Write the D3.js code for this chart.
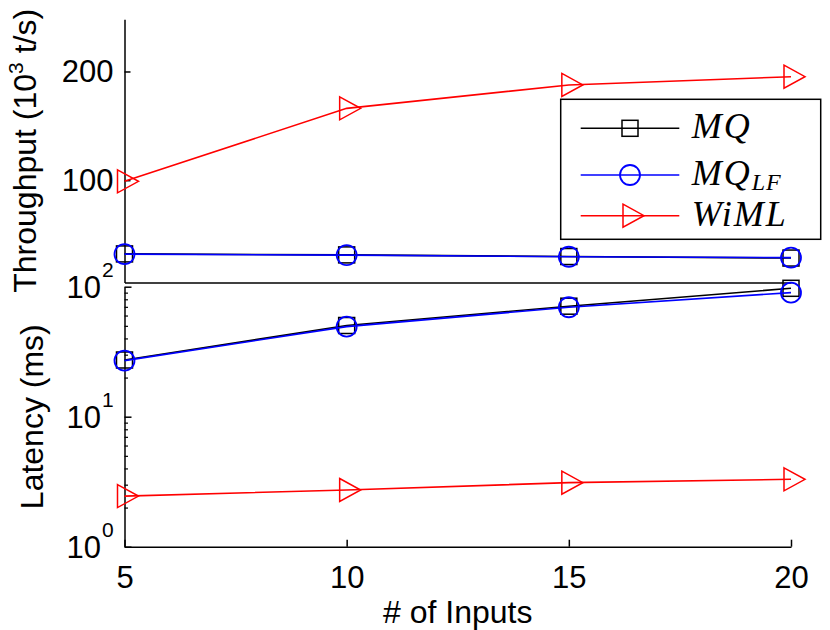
<!DOCTYPE html>
<html>
<head>
<meta charset="utf-8">
<script src="https://cdn.jsdelivr.net/npm/d3@7.9.0/dist/d3.min.js"></script>
<style>
  body { margin: 0; background: #fff; }
  svg { display: block; font-family: "Liberation Sans", Arial, Helvetica, sans-serif; }
</style>
</head>
<body>
<div id="chart"></div>
<script>
// x values and series
const inputs = [5, 10, 15, 20];

const thrMQ = [32.2, 31.3, 29.8, 28.4];
const thrMQLF = [32.0, 31.1, 29.6, 28.8];
const thrWiML = [99.0, 166.1, 187.6, 195.2];

const latMQ = [27.3, 50.3, 70.8, 97.2];
const latMQLF = [27.0, 49.3, 69.5, 90.0];
const latWiML = [2.45, 2.73, 3.11, 3.30];

const xTicks = [5, 10, 15, 20];
const thrTicks = [100, 200];
const latTicks = [1, 10, 100];
const latExponents = ["0", "1", "2"];

const seriesNames = ["MQ", "MQLF", "WiML"];
const seriesColors = ["#000000", "#0000ff", "#ff0000"];

const width = 830;
const height = 630;

const svg = d3.select("#chart")
  .append("svg")
  .attr("width", width)
  .attr("height", height);

const x = d3.scaleLinear().domain([5, 20]).range([124.5, 791]);
const yThr = d3.scaleLinear().domain([6, 248]).range([282.4, 19.3]);
const yLat = d3.scaleLog().domain([1, 100]).range([546.7, 286.7]);

// marker shapes
function drawMarker(g, kind, color, cx, cy) {
  if (kind === "MQ") {
    g.append("rect")
      .attr("x", cx - 8).attr("y", cy - 8)
      .attr("width", 16).attr("height", 16)
      .attr("fill", "none").attr("stroke", color).attr("stroke-width", 1.5);
  } else if (kind === "MQLF") {
    g.append("circle")
      .attr("cx", cx).attr("cy", cy).attr("r", 10)
      .attr("fill", "none").attr("stroke", color).attr("stroke-width", 1.8);
  } else {
    g.append("path")
      .attr("d", `M${cx - 7},${cy - 11.5}L${cx + 14},${cy}L${cx - 7},${cy + 11.5}Z`)
      .attr("fill", "none").attr("stroke", color).attr("stroke-width", 1.5);
  }
}

function drawSeries(yScale, values, kind, color) {
  const g = svg.append("g");
  const line = d3.line()
    .x((d, i) => x(inputs[i]))
    .y(d => yScale(d));
  g.append("path")
    .datum(values)
    .attr("d", line)
    .attr("fill", "none")
    .attr("stroke", color)
    .attr("stroke-width", 1.6);
  values.forEach((v, i) => drawMarker(g, kind, color, x(inputs[i]), yScale(v)));
}

// ---- top panel: throughput
const topLeft = svg.append("g")
  .attr("transform", `translate(${x(5)},0)`)
  .call(d3.axisLeft(yThr).tickValues(thrTicks).tickSize(-6).tickSizeOuter(0).tickPadding(11));

const topBottom = svg.append("g")
  .attr("transform", `translate(0,${yThr.range()[0]})`)
  .call(d3.axisBottom(x).tickValues([]).tickSizeOuter(0));

// ---- bottom panel: latency
const minorTicks = [];
[1, 10].forEach(base => {
  for (let k = 2; k <= 9; k++) minorTicks.push(base * k);
});

svg.append("g")
  .attr("class", "minor")
  .attr("transform", `translate(${x(5)},0)`)
  .call(d3.axisLeft(yLat).tickValues(minorTicks).tickSize(-3.5).tickFormat(""))
  .call(g => g.select(".domain").remove());

const botLeft = svg.append("g")
  .attr("transform", `translate(${x(5)},0)`)
  .call(d3.axisLeft(yLat).tickValues(latTicks).tickSize(-7).tickSizeOuter(0).tickFormat(""));

const botBottom = svg.append("g")
  .attr("transform", `translate(0,${yLat.range()[0]})`)
  .call(d3.axisBottom(x).tickValues(xTicks).tickSize(-7).tickSizeOuter(0).tickPadding(19));

[topLeft, topBottom, botLeft, botBottom].forEach(g => {
  g.selectAll("path.domain, line").attr("stroke", "#000").attr("stroke-width", 1.5);
  g.selectAll("text").attr("font-size", 31).attr("fill", "#000")
    .attr("font-family", "'Liberation Sans', Arial, sans-serif");
});
svg.selectAll(".minor line").attr("stroke", "#000").attr("stroke-width", 1.2);

// log tick labels with superscripts
latTicks.forEach((t, i) => {
  const txt = svg.append("text")
    .attr("x", 101)
    .attr("y", yLat(t) + 11.5)
    .attr("text-anchor", "end")
    .attr("font-size", 31)
    .text("10");
  svg.append("text")
    .attr("x", 102)
    .attr("y", yLat(t) - 10)
    .attr("font-size", 21)
    .text(latExponents[i]);
});

// series, drawn in the original order
drawSeries(yThr, thrMQ, "MQ", seriesColors[0]);
drawSeries(yThr, thrMQLF, "MQLF", seriesColors[1]);
drawSeries(yThr, thrWiML, "WiML", seriesColors[2]);
drawSeries(yLat, latMQ, "MQ", seriesColors[0]);
drawSeries(yLat, latMQLF, "MQLF", seriesColors[1]);
drawSeries(yLat, latWiML, "WiML", seriesColors[2]);

// axis titles
const thrTitle = svg.append("text")
  .attr("transform", "rotate(-90)")
  .attr("x", -(yThr.range()[0] + yThr.range()[1]) / 2)
  .attr("y", 36)
  .attr("text-anchor", "middle")
  .attr("font-size", 32);
thrTitle.append("tspan").text("Throughput (10");
thrTitle.append("tspan").attr("dy", -13).attr("font-size", 21).text("3");
thrTitle.append("tspan").attr("dy", 13).text(" t/s)");

svg.append("text")
  .attr("transform", "rotate(-90)")
  .attr("x", -(yLat.range()[0] + yLat.range()[1]) / 2)
  .attr("y", 43)
  .attr("text-anchor", "middle")
  .attr("font-size", 32)
  .text("Latency (ms)");

svg.append("text")
  .attr("x", (x.range()[0] + x.range()[1]) / 2)
  .attr("y", 623)
  .attr("text-anchor", "middle")
  .attr("font-size", 32)
  .text("# of Inputs");

// legend
const legend = svg.append("g");
legend.append("rect")
  .attr("x", 560.7).attr("y", 99.3)
  .attr("width", 260).attr("height", 140)
  .attr("fill", "#fff").attr("stroke", "#000").attr("stroke-width", 1.5);

const rowY = [128.3, 175, 215.7];
seriesNames.forEach((name, i) => {
  legend.append("line")
    .attr("x1", 580.7).attr("x2", 679.3)
    .attr("y1", rowY[i]).attr("y2", rowY[i])
    .attr("stroke", seriesColors[i]).attr("stroke-width", 1.6);
  drawMarker(legend, name, seriesColors[i], 630, rowY[i]);
  const t = legend.append("text")
    .attr("x", 691.7)
    .attr("y", rowY[i] + 10)
    .attr("font-family", "'Liberation Serif', 'Times New Roman', serif")
    .attr("font-style", "italic")
    .attr("font-size", 36)
    .attr("letter-spacing", 2);
  if (name === "MQLF") {
    t.append("tspan").text("MQ");
    t.append("tspan").attr("dy", 5).attr("font-size", 24).attr("letter-spacing", 1).text("LF");
  } else if (name === "WiML") {
    t.text("WiML");
  } else {
    t.text("MQ");
  }
});
</script>
</body>
</html>
